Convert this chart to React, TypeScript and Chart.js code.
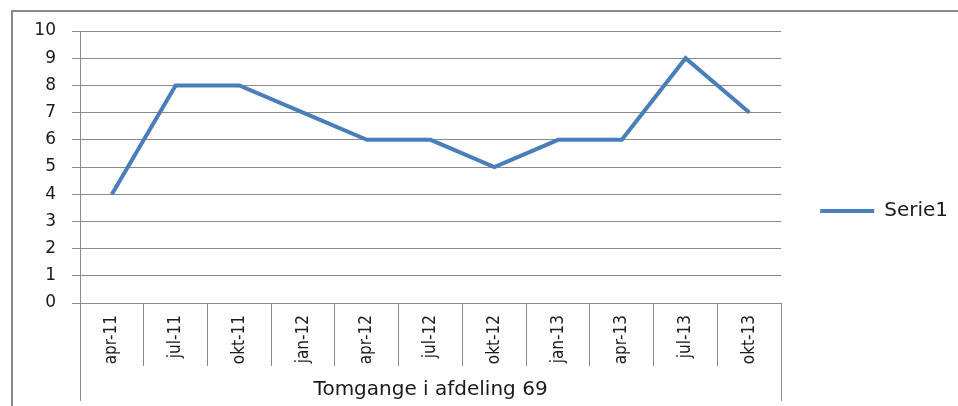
import React, { useEffect, useRef } from 'react';
import { Chart, registerables } from 'chart.js';

Chart.register(...registerables);

const categories = ['apr-11', 'jul-11', 'okt-11', 'jan-12', 'apr-12', 'jul-12', 'okt-12', 'jan-13', 'apr-13', 'jul-13', 'okt-13'];
const serie1 = [4, 8, 8, 7, 6, 6, 5, 6, 6, 9, 7];
const groupLabels = ['Tomgange i afdeling 69'];
const seriesName = 'Serie1';
const yMin = 0;
const yMax = 10;
const yStep = 1;

const GRID = '#8a8a8a';
const TEXT = '#1a1a1a';
const LINE = '#4a7ebb';

export default function App() {
  const ref = useRef<HTMLCanvasElement>(null);
  useEffect(() => {
    const chart = new Chart(ref.current as HTMLCanvasElement, {
      type: 'line',
      data: {
        labels: categories,
        datasets: [
          {
            label: seriesName,
            data: serie1,
            borderColor: LINE,
            backgroundColor: LINE,
            borderWidth: 4,
            pointRadius: 0,
            pointHoverRadius: 0,
            tension: 0,
            fill: false,
          },
        ],
      },
      options: {
        responsive: false,
        animation: false,
        devicePixelRatio: 1,
        layout: { padding: { top: 21, bottom: 5, left: 0, right: 0 } },
        plugins: {
          title: {
            display: true,
            text: '',
            padding: 0,
            font: { size: 10, lineHeight: 1 },
          },
          legend: {
            position: 'right',
            maxWidth: 177,
            labels: {
              usePointStyle: true,
              pointStyle: 'line',
              pointStyleWidth: 54,
              padding: 39,
              color: TEXT,
              font: { family: 'DejaVu Sans', size: 20 },
            },
          },
          tooltip: { enabled: false },
        },
        scales: {
          x: {
            type: 'category',
            position: 'bottom',
            offset: true,
            weight: 0,
            grid: { offset: true, drawOnChartArea: false, drawTicks: true, tickLength: 63, color: GRID, lineWidth: 1 },
            border: { display: true, color: GRID },
            ticks: {
              autoSkip: false,
              minRotation: 90,
              maxRotation: 90,
              padding: -51,
              color: TEXT,
              font: { family: "'Liberation Sans Narrow', 'DejaVu Sans Condensed', sans-serif", size: 17 },
            },
            afterFit: (s: any) => { s.height = 63; },
          },
          x2: {
            type: 'category',
            position: 'bottom',
            labels: groupLabels,
            offset: true,
            weight: 1,
            grid: { offset: true, drawOnChartArea: false, drawTicks: true, tickLength: 35, color: GRID, lineWidth: 1 },
            border: { display: false },
            ticks: {
              padding: -23,
              color: TEXT,
              font: { family: 'DejaVu Sans', size: 20 },
            },
            afterFit: (s: any) => { s.height = 35; },
          },
          y: {
            min: yMin,
            max: yMax,
            ticks: {
              stepSize: yStep,
              padding: 16,
              color: TEXT,
              font: { family: 'DejaVu Sans', size: 17 },
            },
            grid: { color: GRID, lineWidth: 1, tickLength: 8 },
            border: { display: true, color: GRID },
            afterFit: (s: any) => { s.width = 80; },
          },
        },
      },
    } as any);
    return () => chart.destroy();
  }, []);

  return (
    <div style={{ position: 'fixed', left: 0, top: 0, width: 958, height: 406, overflow: 'hidden', background: '#fff' }}>
      <div
        style={{
          position: 'absolute',
          left: 11,
          top: 10,
          width: 1000,
          height: 500,
          borderTop: '2px solid #8a8a8a',
          borderLeft: '2px solid #8a8a8a',
        }}
      />
      <canvas ref={ref} width={958} height={406} style={{ position: 'absolute', left: 0, top: 0 }} />
    </div>
  );
}
